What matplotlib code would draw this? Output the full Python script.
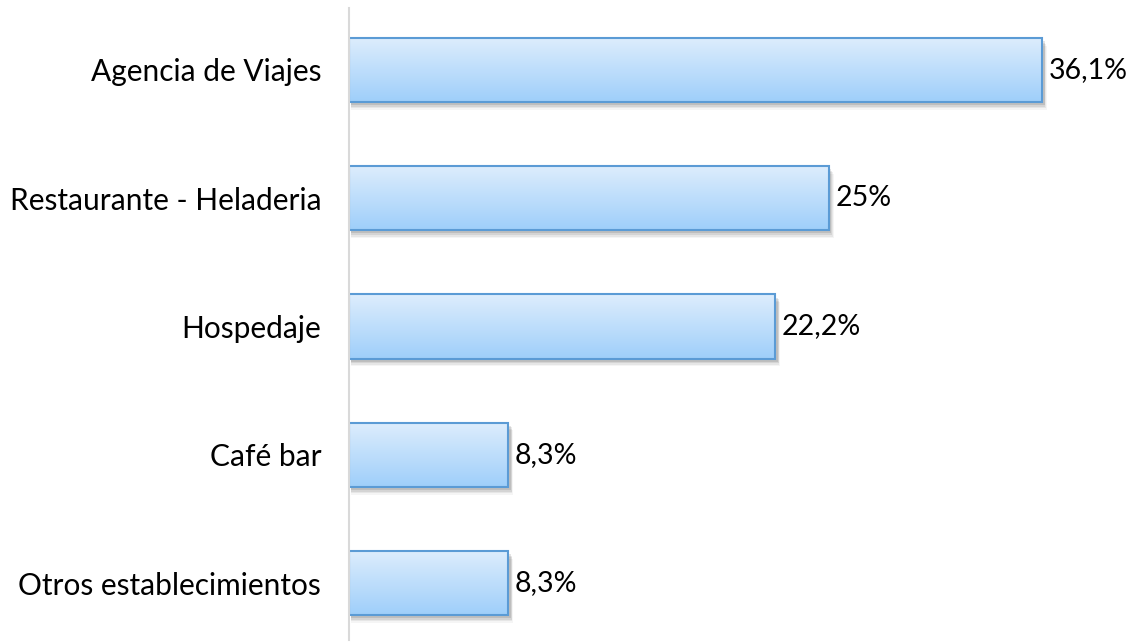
import numpy as np
import matplotlib.pyplot as plt
from matplotlib.patches import Rectangle

categories = ['Agencia de Viajes', 'Restaurante - Heladeria', 'Hospedaje',
              'Café bar', 'Otros establecimientos']
values = [36.1, 25.0, 22.2, 8.3, 8.3]
value_labels = ['36,1%', '25%', '22,2%', '8,3%', '8,3%']

plt.rcParams['font.family'] = ['Lato', 'DejaVu Sans']

W, H = 1133, 643
fig = plt.figure(figsize=(W / 100, H / 100), dpi=100)
ax = fig.add_axes([349 / W, 3 / H, (1100 - 349) / W, (635 - 3) / H])

n = len(categories)
ypos = np.arange(n)[::-1]  # first category on top
bar_h = 0.5
xmax = (1100 - 349) / 19.2

ax.set_xlim(0, xmax)
ax.set_ylim(-0.444, n - 1 + 0.482)

# vertical gradient image (light top, darker bottom)
grad = np.linspace(0, 1, 256).reshape(-1, 1)
top = np.array([0.87, 0.93, 0.99])
bot = np.array([0.62, 0.81, 0.98])
img = top + (bot - top) * grad[..., None]
img = img.reshape(256, 1, 3)

for y, v, lab in zip(ypos, values, value_labels):
    # soft shadow
    for k, a in enumerate([0.10, 0.08, 0.06, 0.04]):
        d = 0.05 + k * 0.04
        ax.add_patch(Rectangle((0.08, y - bar_h / 2 - 0.025 - k * 0.012), v + d,
                               bar_h, facecolor='black', alpha=a,
                               edgecolor='none', zorder=1))
    rect = Rectangle((0, y - bar_h / 2), v, bar_h, facecolor='none',
                     edgecolor='#5B9BD5', linewidth=1.5, zorder=3)
    ax.add_patch(rect)
    im = ax.imshow(img, extent=(0, v, y - bar_h / 2, y + bar_h / 2),
                   aspect='auto', origin='upper', zorder=2)
    im.set_clip_path(rect)
    ax.text(v + 0.35, y, lab, va='center', ha='left', fontsize=20.5,
            color='black')

ax.set_yticks(ypos)
ax.set_yticklabels(categories, fontsize=21.5)
ax.tick_params(axis='y', length=0, pad=20)
ax.set_xticks([])
for s in ['top', 'right', 'bottom']:
    ax.spines[s].set_visible(False)
ax.spines['left'].set_color('#D9D9D9')
ax.spines['left'].set_linewidth(1.5)
ax.spines['left'].set_zorder(5)

fig.savefig('out.png', dpi=100)
